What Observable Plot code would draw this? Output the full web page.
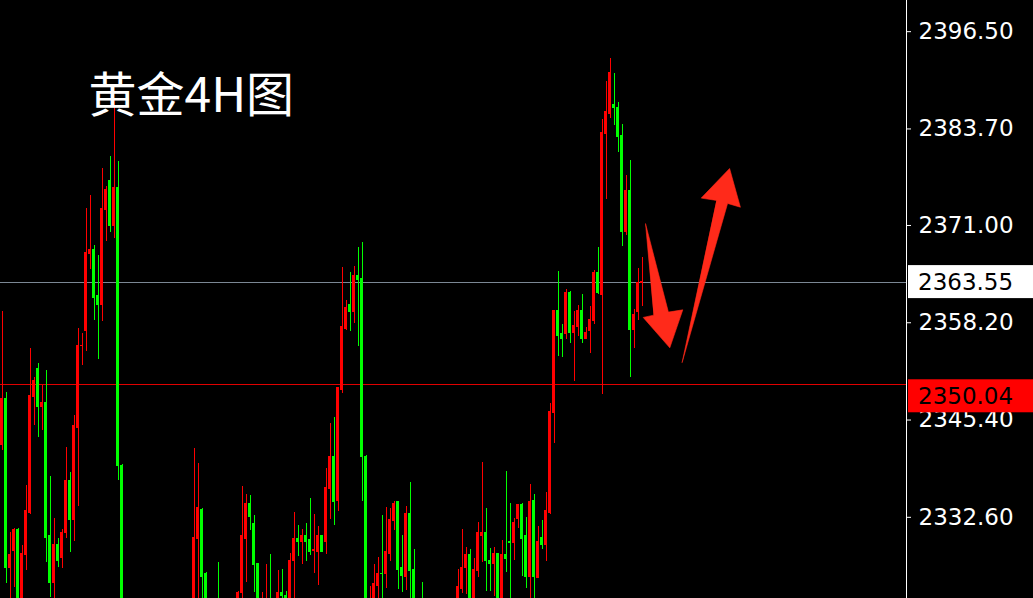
<!DOCTYPE html>
<html><head><meta charset="utf-8">
<script src="https://cdn.jsdelivr.net/npm/d3@7"></script>
<script src="https://cdn.jsdelivr.net/npm/@observablehq/plot@0.6"></script>
<style>html,body{margin:0;padding:0;background:#000;overflow:hidden}</style>
</head><body><div id="chart"></div>
<script>
const title = "黄金4H图";
const tickValues = [2396.50, 2383.70, 2371.00, 2358.20, 2345.40, 2332.60];
const bidPrice = 2363.55;
const linePrice = 2350.04;

// bar positions (4H bar number from the left edge); hidden bars below the window are omitted
const barIndex = [].concat(
  d3.range(0, 31),
  [48, 49, 50, 51, 54, 59, 60, 61, 62, 63, 64, 65, 66, 67],
  d3.range(69, 104),
  [105],
  d3.range(114, 161)
);
const opens = [
  2342.1,2348.2,2325.9,2328.2,2330.9,2320.0,2327.7,2333.2,2348.4,2352.1,2347.1,2347.7,2330.1,2324.0,2328.9,2327.2,2330.5,2337.4,2332.3,2344.4,2355.1,2357.1,2367.3,2367.8,2361.7,2360.5,2373.0,2376.8,2370.9,2375.9,2339.4,
  2320.0,2329.8,2333.6,2325.1,2321.0,2319.0,2322.6,2329.8,2334.3,2331.7,2326.4,2318.0,2318.0,2321.0,
  2319.0,2322.6,2322.3,2321.5,2326.8,2329.7,2329.3,2330.2,2329.6,2328.2,2328.1,2330.1,2329.3,2336.3,2340.5,2334.7,2349.4,2357.4,2360.6,2359.6,2364.3,2363.9,2340.6,2317.0,2320.0,2323.6,2325.2,2325.1,2327.8,2332.1,2334.6,2325.9,2324.8,2333.1,2325.7,
  2321.0,
  2320.0,2323.2,2325.9,2327.7,2320.0,2325.5,2330.2,2330.5,2326.9,2326.4,2327.8,2320.0,2327.6,2329.4,2329.2,2332.4,2334.2,2330.1,2324.8,2334.8,2324.6,2329.9,2329.0,2333.2,2346.3,2359.7,2356.7,2356.7,2362.1,2356.8,2357.7,2359.8,2356.1,2357.1,2358.4,2364.8,2361.9,2383.0,2385.7,2386.9,2386.4,2382.8,2370.1,2375.6,2357.2,2359.6,2363.4
];
const highs = [
  2359.7,2349.0,2330.6,2331.1,2331.1,2328.9,2336.8,2354.8,2351.0,2352.8,2349.9,2351.9,2338.0,2332.4,2329.8,2331.0,2341.8,2338.5,2346.0,2357.4,2356.8,2373.2,2374.9,2368.4,2367.1,2378.5,2376.1,2380.1,2387.7,2379.4,2339.6,
  2341.7,2339.7,2333.8,2325.3,2326.7,2322.8,2336.7,2335.6,2335.5,2332.8,2326.5,2322.7,2326.4,2327.7,
  2325.6,2325.7,2322.8,2327.8,2333.2,2331.5,2331.0,2331.8,2335.1,2333.0,2331.4,2330.2,2339.0,2344.9,2345.7,2349.7,2365.5,2361.1,2364.8,2365.6,2368.1,2368.8,2340.7,2323.5,2326.4,2327.3,2332.8,2333.9,2333.8,2334.7,2334.7,2330.2,2334.0,2337.2,2328.4,
  2324.0,
  2325.7,2331.0,2328.6,2328.4,2327.2,2331.9,2339.8,2333.8,2328.5,2328.6,2327.9,2329.6,2338.6,2334.4,2332.4,2334.3,2334.4,2332.6,2336.9,2335.6,2331.4,2332.2,2335.9,2347.6,2359.8,2364.9,2358.0,2362.6,2362.3,2359.7,2360.5,2361.9,2357.6,2360.3,2365.1,2368.1,2385.0,2389.9,2393.0,2391.0,2387.2,2384.3,2377.6,2379.6,2359.9,2365.3,2366.8
];
const lows = [
  2341.4,2323.9,2320.0,2323.4,2319.5,2319.0,2325.6,2333.0,2344.7,2343.1,2344.0,2326.7,2322.1,2320.0,2326.0,2325.9,2329.8,2328.0,2329.4,2334.0,2352.6,2354.4,2365.2,2358.5,2353.4,2358.4,2368.9,2370.1,2369.3,2337.4,2317.0,
  2319.0,2320.0,2320.0,2319.0,2319.0,2318.0,2320.0,2324.0,2330.9,2322.7,2319.0,2317.0,2317.0,2317.0,
  2318.0,2320.0,2321.0,2320.0,2320.0,2327.4,2326.4,2326.8,2327.6,2325.2,2323.6,2328.0,2327.7,2332.3,2331.5,2333.4,2348.9,2357.2,2357.1,2358.1,2355.1,2334.7,2317.0,2316.0,2319.0,2320.0,2320.0,2323.2,2326.8,2330.9,2323.1,2322.7,2323.0,2320.0,2319.0,
  2317.0,
  2319.0,2322.6,2322.4,2319.0,2319.0,2324.7,2326.7,2322.8,2322.8,2322.2,2319.0,2319.0,2325.3,2320.0,2326.9,2331.1,2324.8,2323.2,2320.0,2320.0,2324.5,2328.4,2326.8,2333.0,2342.3,2353.8,2353.6,2356.0,2355.5,2350.5,2356.4,2355.5,2356.0,2354.2,2358.0,2361.9,2348.8,2374.4,2385.1,2384.2,2380.6,2368.2,2369.7,2351.0,2354.8,2358.5,2360.3
];
const closes = [
  2348.2,2325.9,2327.6,2330.9,2320.0,2327.8,2333.4,2348.5,2350.5,2347.1,2347.7,2329.9,2323.9,2328.9,2326.8,2330.6,2337.4,2332.3,2344.6,2355.2,2355.2,2367.4,2367.8,2361.5,2360.5,2373.2,2375.7,2370.9,2375.9,2339.4,2318.0,
  2329.9,2333.8,2324.8,2320.0,2319.5,2322.7,2330.1,2334.3,2332.6,2326.3,2320.0,2320.0,2321.0,2318.0,
  2322.6,2322.2,2321.5,2326.9,2329.7,2329.3,2330.2,2329.3,2328.1,2328.3,2330.1,2328.1,2336.4,2340.5,2334.6,2349.6,2357.6,2360.1,2359.6,2364.3,2363.8,2340.5,2318.0,2320.0,2323.8,2325.2,2325.1,2328.1,2332.2,2334.4,2325.7,2324.9,2333.1,2325.5,2320.0,
  2318.0,
  2323.4,2325.9,2327.6,2320.0,2325.7,2330.5,2330.5,2326.8,2326.4,2327.8,2320.0,2327.6,2327.1,2329.2,2331.8,2334.2,2329.8,2324.8,2334.6,2324.7,2329.4,2329.0,2333.4,2346.4,2359.7,2356.5,2356.0,2362.1,2356.8,2357.8,2359.8,2356.1,2356.9,2358.5,2364.8,2362.1,2383.2,2385.9,2391.0,2386.4,2382.7,2370.1,2375.6,2357.2,2359.2,2363.4,2363.55
];

// hand-drawn red arrows (bar number, price)
const downArrowBars   = [160.9, 166.6, 170.2, 166.95, 160.3, 162.9];
const downArrowPrices = [2371.2, 2359.6, 2359.9, 2354.9, 2358.9, 2359.2];
const upArrowBars     = [170.05, 181.4, 184.6, 181.9, 174.8, 178.6];
const upArrowPrices   = [2353.0, 2373.9, 2373.4, 2378.5, 2374.6, 2374.3];

const RED = "#ff0000", GREEN = "#00ff00", ARROW = "#ff2a1a";

const data = barIndex.map((k, i) => ({k, open: opens[i], high: highs[i], low: lows[i], close: closes[i]}));
const upBars = data.filter(d => d.close >= d.open);
const downBars = data.filter(d => d.close < d.open);
const downArrow = downArrowBars.map((x, i) => ({x, y: downArrowPrices[i]}));
const upArrow = upArrowBars.map((x, i) => ({x, y: upArrowPrices[i]}));

const W = 1033, H = 598, MR = 127;
const candle = (rows, color) => [
  Plot.ruleX(rows, {x: "k", y1: "low", y2: "high", stroke: color, strokeWidth: 1, clip: true, shapeRendering: "crispEdges"}),
  Plot.rect(rows, {x1: d => d.k - 0.375, x2: d => d.k + 0.375, y1: "open", y2: "close", fill: color, insetTop: -0.5, insetBottom: -0.5, clip: true, shapeRendering: "crispEdges"})
];

const chart = Plot.plot({
  width: W, height: H,
  marginLeft: 0, marginRight: MR, marginTop: 0, marginBottom: 0,
  style: {background: "#000", color: "#fff", fontFamily: "DejaVu Sans", overflow: "visible"},
  x: {type: "linear", domain: [-0.375, 226.125], axis: null},
  y: {domain: [2321.92, 2400.6], axis: null},
  marks: [
    Plot.ruleY([bidPrice], {stroke: "#7b8794", strokeWidth: 1, shapeRendering: "crispEdges"}),
    Plot.ruleY([linePrice], {stroke: "#e00000", strokeWidth: 1, shapeRendering: "crispEdges"}),
    ...candle(upBars, RED),
    ...candle(downBars, GREEN),
    Plot.line(downArrow, {x: "x", y: "y", fill: ARROW, stroke: ARROW, strokeWidth: 0.6, curve: "linear-closed"}),
    Plot.line(upArrow, {x: "x", y: "y", fill: ARROW, stroke: ARROW, strokeWidth: 0.6, curve: "linear-closed"}),
    Plot.text([title], {frameAnchor: "top-left", dx: 88, dy: 77, lineAnchor: "top", textAnchor: "start",
      fontSize: 48, fill: "#fff", fontFamily: "Noto Sans CJK SC"}),
    Plot.axisY({anchor: "right", ticks: tickValues, tickFormat: d3.format(".2f"), tickSize: 4, tickPadding: 8,
      fontSize: 23, label: null, stroke: "#fff", fill: "#fff"})
  ]
});

document.getElementById("chart").appendChild(chart);

// axis border line and price tags
const svg = d3.select(chart);
const ys = chart.scale("y");
const xr = W - MR;
svg.append("line").attr("x1", xr + 0.5).attr("x2", xr + 0.5).attr("y1", 0).attr("y2", H)
  .attr("stroke", "#fff").attr("shape-rendering", "crispEdges");
function tag(price, bg, offset) {
  const cy = ys.apply(price) + offset;
  svg.append("rect").attr("x", xr + 2).attr("y", cy - 16.5).attr("width", W - xr - 2).attr("height", 33).attr("fill", bg);
  svg.append("text").attr("x", xr + 12).attr("y", cy).attr("dy", "0.36em").attr("text-anchor", "start")
    .attr("fill", "#000").attr("font-size", 23).attr("font-family", "DejaVu Sans")
    .text(d3.format(".2f")(price));
}
tag(bidPrice, "#ffffff", 0);
tag(linePrice, "#ff0000", 11.5);
</script>
</body></html>
